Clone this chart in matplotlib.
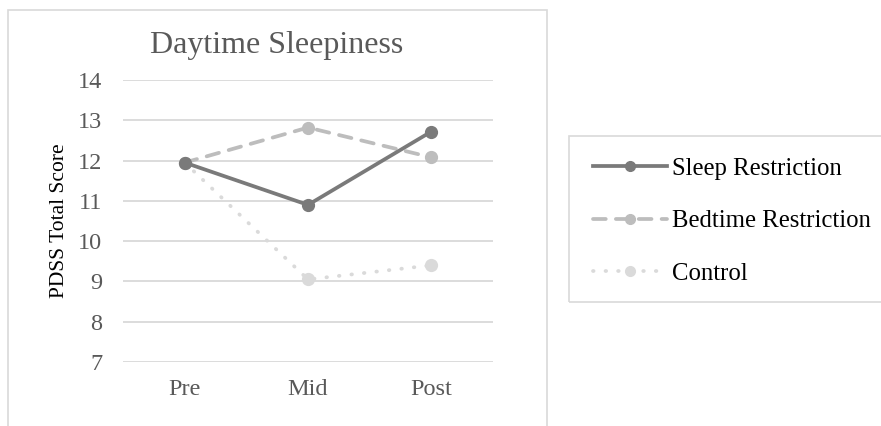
import matplotlib
matplotlib.use("Agg")
import matplotlib.pyplot as plt
from matplotlib.patches import Rectangle
from matplotlib.lines import Line2D

plt.rcParams['font.family'] = ['Liberation Serif', 'DejaVu Serif']

phases = ["Pre", "Mid", "Post"]
sleep_restriction = [11.95, 10.9, 12.72]
bedtime_restriction = [11.95, 12.82, 12.08]
control = [11.95, 9.05, 9.4]
y_ticks = [7, 8, 9, 10, 11, 12, 13, 14]

W, H = 881, 426
fig = plt.figure(figsize=(W / 100, H / 100), dpi=100)

def fx(px):
    return px / W

def fy(py):
    return 1 - py / H

# chart frame (open at the bottom edge of the canvas)
fig.patches.append(Rectangle((fx(8), fy(440)), fx(547) - fx(8), fy(10) - fy(440),
                             transform=fig.transFigure, fill=False,
                             edgecolor="#d9d9d9", linewidth=1.2, zorder=0))
# legend frame (runs past the right edge)
fig.patches.append(Rectangle((fx(569), fy(302)), fx(900) - fx(569), fy(136) - fy(302),
                             transform=fig.transFigure, fill=False,
                             edgecolor="#d9d9d9", linewidth=1.2, zorder=0))

ax = fig.add_axes([fx(123), fy(362), fx(493) - fx(123), fy(80) - fy(362)])
x = list(range(len(phases)))

styles = [
    ("Sleep Restriction", sleep_restriction, "#7a7a7a", "-", 3, "butt"),
    ("Bedtime Restriction", bedtime_restriction, "#bdbdbd", (0, (3.4, 2.7)), 2, "round"),
    ("Control", control, "#dadada", (0, (0.15, 3.2)), 1, "round"),
]
handles = []
for label, vals, color, ls, z, cap in styles:
    ax.plot(x, vals, color=color, linestyle=ls, linewidth=2.7,
            marker="o", markersize=8.5, zorder=z + 2,
            solid_capstyle="butt", dash_capstyle=cap)
    handles.append(Line2D([], [], color=color, linestyle=ls, linewidth=2.7,
                          marker="o", markersize=7, dash_capstyle=cap))

ax.set_xlim(-0.5, 2.5)
ax.set_ylim(7, 14)
ax.set_yticks(y_ticks)
ax.set_xticks(x)
ax.set_xticklabels(phases)
ax.yaxis.grid(True, color="#d9d9d9", linewidth=1.3)
ax.set_axisbelow(True)
for s in ax.spines.values():
    s.set_visible(False)
ax.tick_params(axis="both", length=0, labelsize=17.5, labelcolor="#595959")
ax.tick_params(axis="y", pad=15)
ax.tick_params(axis="x", pad=12)
ax.set_ylabel("PDSS Total Score", fontsize=15.5, color="black", labelpad=6)

fig.text(fx(277), fy(45), "Daytime Sleepiness", ha="center", va="center",
         fontsize=23, color="#595959")

fig.legend(handles, [s[0] for s in styles], loc="center left",
           bbox_to_anchor=(fx(593), fy(221)), frameon=False,
           fontsize=17.8, handlelength=3.0, handletextpad=0.2,
           labelspacing=1.22, numpoints=1, borderpad=0, borderaxespad=0)

fig.savefig("out.png", dpi=100)
